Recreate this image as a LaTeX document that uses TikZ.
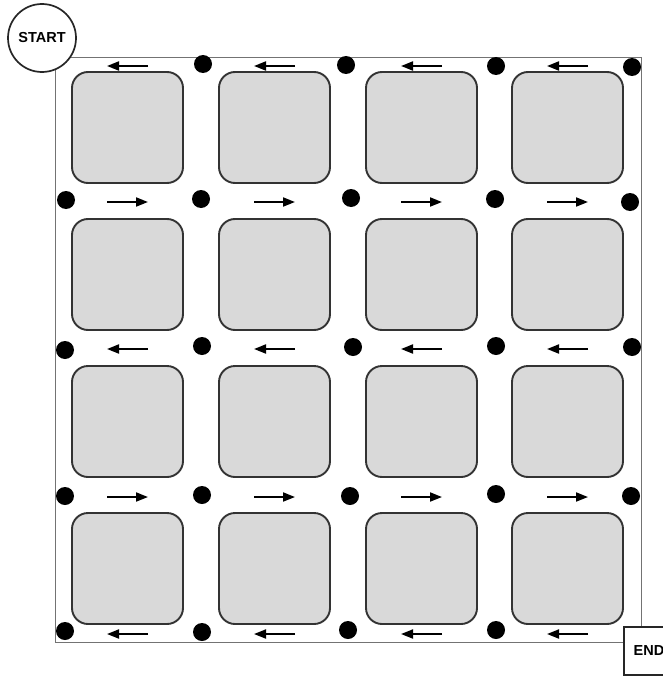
\documentclass[tikz,border=0pt]{standalone}
\usepackage{fontspec}
\setmainfont{Liberation Sans}
\usetikzlibrary{arrows.meta}
\begin{document}
\begin{tikzpicture}[x=1pt,y=-1pt,
  block/.style={draw=black!80,line width=1.9pt,fill=gray!30,rounded corners=16pt,minimum width=111pt,minimum height=111pt,inner sep=0pt},
  dot/.style={circle,fill=black,inner sep=0pt,minimum width=17pt,minimum height=18pt},
  flow/.style={line width=1.8pt,-{Triangle[length=12pt,width=9pt]}},
  frame/.style={draw=black!55,line width=0.9pt,inner sep=0pt},
  term/.style={draw=black!85,line width=1.7pt,fill=white,font=\bfseries\fontsize{14.5}{16}\selectfont,inner sep=0pt}
  ]
\useasboundingbox (0,0) rectangle (663,677);
% board frame
\node[frame,minimum width=586pt,minimum height=585pt] (board) at (348,349.5) {};
% blocks
\foreach \x [count=\i] in {127.5,274.5,421.5,567.5}{
  \foreach \y [count=\j] in {127.5,274.5,421.5,568.5}{
    \node[block] (b\j\i) at (\x,\y) {};
  }
}
% dots
\foreach \n/\p in {
  d12/{(203,64)}, d13/{(346,65)}, d14/{(496,66)}, d15/{(632,67)},
  d21/{(66,200)}, d22/{(201,199)}, d23/{(351,198)}, d24/{(495,199)}, d25/{(630,202)},
  d31/{(65,350)}, d32/{(202,346)}, d33/{(353,347)}, d34/{(496,346)}, d35/{(632,347)},
  d41/{(65,496)}, d42/{(202,495)}, d43/{(350,496)}, d44/{(496,494)}, d45/{(631,496)},
  d51/{(65,631)}, d52/{(202,632)}, d53/{(348,630)}, d54/{(496,630)}}{
  \node[dot] (\n) at \p {};
}
% flow arrows
\foreach \y/\d [count=\r] in {66/-1,202/1,349/-1,497/1,634/-1}{
  \foreach \x [count=\c] in {127.5,274.5,421.5,567.5}{
    \coordinate (s\r\c) at ({\x-\d*20.5},\y);
    \coordinate (e\r\c) at ({\x+\d*20.5},\y);
    \draw[flow] (s\r\c) -- (e\r\c);
  }
}
% terminals
\node[term,circle,minimum size=68pt] (start) at (42,38) {START};
\node[term,rectangle,minimum width=50pt,minimum height=48pt] (end) at (649,651) {END};
\end{tikzpicture}
\end{document}
